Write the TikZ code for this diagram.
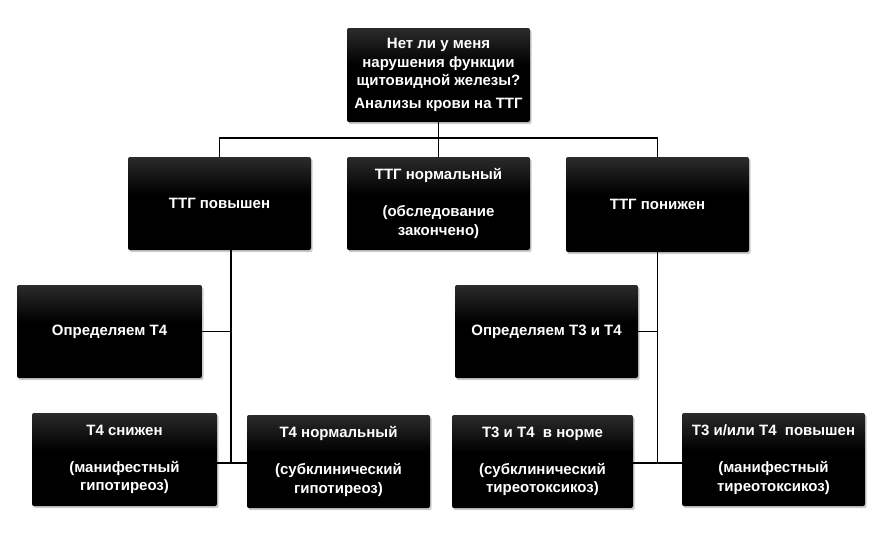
\documentclass[tikz,border=0pt]{standalone}
\usepackage{fontspec}
\setmainfont{Liberation Sans}
\usetikzlibrary{shadows}
\pgfdeclareverticalshading{boxshade}{100bp}{color(0bp)=(black); color(55bp)=(black); color(100bp)=(black!62)}
\tikzset{
  box/.style={rectangle, rounded corners=2pt, shading=boxshade, text=white,
    font=\fontsize{15}{18.5}\selectfont\bfseries, align=center, inner sep=2pt,
    drop shadow={shadow xshift=1.6pt, shadow yshift=-2.2pt, fill=black!40, opacity=0.5}},
  conn/.style={draw=black, line width=1.5pt}
}
\begin{document}
\begin{tikzpicture}[x=1pt,y=-1pt]
\useasboundingbox (0,0) rectangle (885,549);
% boxes
\node[box, minimum width=183pt, minimum height=94pt] (top) at (438.5,75)
  {Нет ли у меня\\нарушения функции\\щитовидной железы?\\[4pt]Анализы крови на ТТГ};
\node[box, minimum width=183pt, minimum height=93pt] (L1) at (219.5,203.5) {ТТГ повышен};
\node[box, minimum width=183pt, minimum height=93pt] (M1) at (438.5,203.5)
  {ТТГ нормальный\\[18.5pt](обследование\\закончено)};
\node[box, minimum width=183pt, minimum height=95pt] (R1) at (657.5,204.5) {ТТГ понижен};
\node[box, minimum width=185pt, minimum height=93pt] (L2) at (109.5,331.5) {Определяем Т4};
\node[box, minimum width=183pt, minimum height=93pt] (R2) at (546.5,331.5) {Определяем Т3 и Т4};
\node[box, minimum width=185pt, minimum height=93pt] (L3) at (124.5,459.5)
  {Т4 снижен\\[18.5pt](манифестный\\гипотиреоз)};
\node[box, minimum width=183pt, minimum height=93pt] (L4) at (338.5,461.5)
  {Т4 нормальный\\[18.5pt](субклинический\\гипотиреоз)};
\node[box, minimum width=181pt, minimum height=93pt] (R3) at (542.5,461.5)
  {Т3 и Т4~ в норме\\[18.5pt](субклинический\\тиреотоксикоз)};
\node[box, minimum width=183pt, minimum height=93pt] (R4) at (773.5,459.5)
  {Т3 и/или Т4~ повышен\\[18.5pt](манифестный\\тиреотоксикоз)};
% junctions
\coordinate (hub) at (438.5,138);
\coordinate (jl) at (231,463);
\coordinate (jr) at (657.5,463);
% connectors
\draw[conn] (top.south) -- (hub);
\draw[conn] (L1.north) -- (L1.north |- hub) -- (R1.north |- hub) -- (R1.north);
\draw[conn] (hub) -- (M1.north);
\draw[conn] (L1.south -| jl) -- (jl);
\draw[conn] (L2.east) -- (L2.east -| jl);
\draw[conn] (jl -| L3.east) -- (jl -| L4.west);
\draw[conn] (R1.south -| jr) -- (jr);
\draw[conn] (R2.east) -- (R2.east -| jr);
\draw[conn] (jr -| R3.east) -- (jr -| R4.west);
\end{tikzpicture}
\end{document}
